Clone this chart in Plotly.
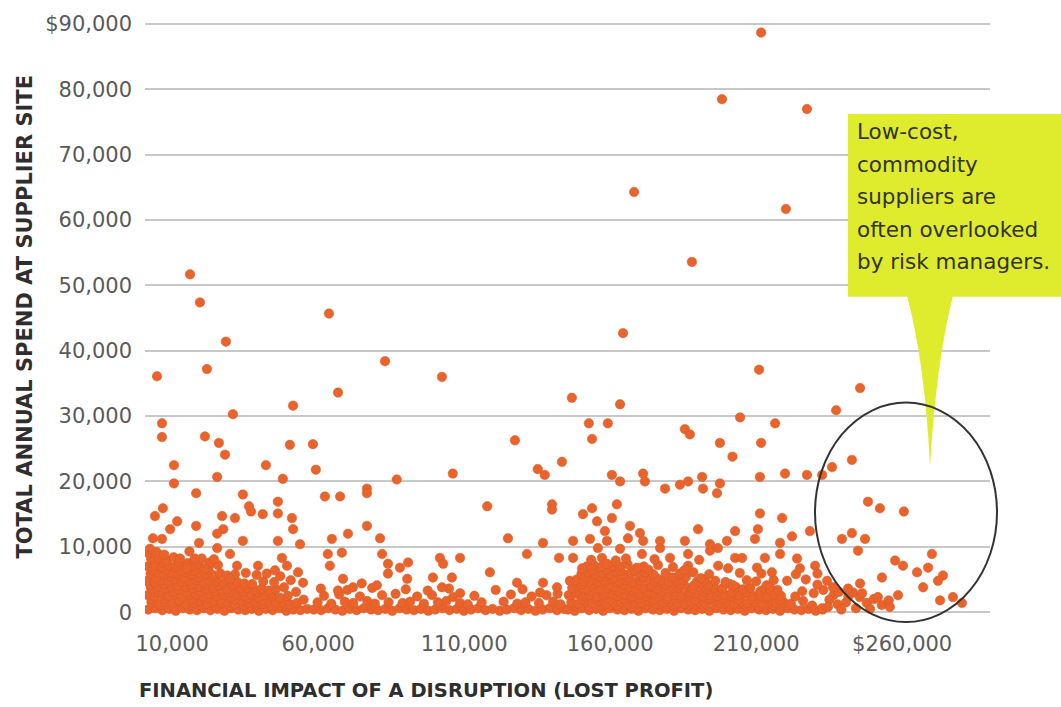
import plotly.graph_objects as go

# ---- Data (in $ thousands): (financial impact of disruption, total annual spend) ----
outliers_high = [
    (211.7, 88.7), (198.3, 78.5), (227.4, 77.0), (168.2, 64.3), (220.2, 61.7), (188.0, 53.6),
    (16.1, 51.7), (19.5, 47.4), (63.7, 45.7), (164.4, 42.7), (28.4, 41.4),
    (82.9, 38.4), (21.9, 37.2), (211.0, 37.1), (4.8, 36.1), (102.4, 36.0), (245.6, 34.3), (66.8, 33.6),
    (146.9, 32.8), (163.4, 31.8), (51.4, 31.6), (237.4, 30.9), (30.8, 30.3), (204.5, 29.8),
    (6.5, 28.9), (152.7, 28.9), (159.2, 28.9), (216.5, 28.9), (185.6, 28.0), (187.3, 27.2),
    (21.2, 26.9), (6.5, 26.8), (153.8, 26.5), (127.4, 26.3), (26.0, 25.9), (197.6, 25.9), (211.7, 25.9),
    (58.2, 25.7), (50.3, 25.6),
]

mid_scatter = [
    (28.1, 24.1), (201.9, 23.8), (242.8, 23.3), (143.5, 23.0), (10.6, 22.5), (42.1, 22.5), (236.0, 22.2),
    (135.2, 21.9), (59.2, 21.8), (106.1, 21.2), (171.3, 21.2), (219.9, 21.2), (137.6, 21.0), (160.6, 21.0),
    (232.6, 21.0), (227.4, 21.0), (25.4, 20.7), (191.5, 20.7), (211.3, 20.7), (47.9, 20.4), (86.9, 20.3),
    (163.4, 20.0), (171.9, 20.0), (186.7, 20.0), (10.6, 19.7), (197.6, 19.7), (183.9, 19.5),
    (76.7, 18.9), (178.8, 18.9), (191.8, 18.9), (18.2, 18.2), (76.7, 18.2), (196.6, 18.2), (34.2, 18.0),
    (62.3, 17.7), (67.5, 17.7), (46.2, 16.9), (248.3, 16.9), (140.1, 16.5), (162.3, 16.5),
    (6.8, 15.9), (117.9, 16.2), (36.3, 16.2), (153.8, 15.9), (252.4, 15.9), (140.1, 15.7),
    (37.0, 15.4), (260.6, 15.4), (46.2, 15.1), (211.3, 15.1), (41.0, 15.0), (150.7, 15.0),
    (4.1, 14.7), (27.1, 14.7), (31.5, 14.4), (51.0, 14.4), (160.6, 14.4), (218.9, 14.4),
    (11.7, 13.9), (155.5, 13.9), (18.2, 13.2), (76.7, 13.2), (166.8, 13.2),
    (9.3, 12.7), (27.5, 12.7), (51.4, 12.7), (190.1, 12.7), (210.6, 12.7),
    (158.2, 12.4), (202.8, 12.4), (228.4, 12.4), (170.2, 12.1), (242.8, 12.1),
    (25.4, 12.0), (70.2, 12.0), (222.3, 11.6),
    (3.4, 11.3), (81.2, 11.3), (125.0, 11.3), (166.1, 11.3),
    (6.5, 11.2), (64.7, 11.2), (153.1, 11.2), (209.6, 11.2), (239.4, 11.2), (247.3, 11.2),
    (34.2, 10.9), (46.2, 10.9), (147.3, 10.9), (158.9, 10.9), (171.3, 10.9), (177.1, 10.9),
    (185.6, 10.9), (200.0, 10.9), (19.2, 10.6), (137.0, 10.6), (218.2, 10.6), (53.8, 10.4), (194.2, 10.4),
]

low_scatter = [
    (25.4, 9.8), (155.8, 9.8), (177.1, 9.8), (196.9, 9.8), (2.4, 9.7), (163.4, 9.7),
    (244.9, 9.4), (194.2, 9.4), (29.8, 8.9), (63.3, 8.9), (81.9, 8.9), (131.5, 8.9), (170.9, 8.9),
    (186.7, 8.9), (218.2, 8.9), (270.2, 8.9), (68.1, 9.1), (12.7, 8.2), (17.8, 8.2), (47.6, 8.3),
    (101.7, 8.3), (108.6, 8.3), (142.5, 8.3), (147.3, 8.3), (180.5, 8.3), (202.8, 8.3), (205.2, 8.3),
    (213.0, 8.3), (224.0, 8.2), (257.6, 7.9), (90.8, 7.6), (83.9, 7.4), (102.8, 7.4), (158.9, 7.4),
    (32.2, 7.1), (39.4, 7.1), (49.3, 7.1), (64.0, 7.1), (186.7, 7.1), (230.2, 7.1), (260.3, 7.1),
    (88.0, 6.8), (169.2, 6.8), (210.3, 6.8), (268.9, 6.8), (15.1, 6.7), (21.2, 6.7), (150.4, 6.7),
    (200.4, 6.7), (225.0, 6.7), (45.2, 6.4), (53.1, 6.1), (118.8, 6.1), (215.4, 6.1), (265.1, 6.1),
    (83.9, 5.9), (274.0, 5.6), (99.3, 5.3), (105.8, 5.3), (253.1, 5.3), (29.8, 5.1), (68.5, 5.1),
    (90.5, 5.1), (272.3, 4.8), (220.6, 4.8), (234.3, 4.8), (54.8, 4.5), (128.1, 4.5), (137.0, 4.5),
    (74.9, 4.4), (245.6, 4.4), (80.1, 4.1), (202.1, 4.1), (71.9, 3.8), (102.4, 3.8), (141.8, 3.8),
    (214.7, 3.8), (267.2, 3.8), (236.3, 3.8), (241.5, 3.6), (66.8, 3.3), (136.0, 3.0), (108.6, 2.9),
    (258.6, 2.6), (277.4, 2.3), (251.7, 2.3), (273.0, 1.8), (280.5, 1.4), (234.6, 0.8),
]

tail_right = [
    (243.2, 3.0), (245.5, 2.3), (247.9, 1.4), (250.3, 2.0), (253.0, 1.1), (255.4, 1.8), (240.8, 1.5),
    (244.2, 0.6), (249.0, 0.5), (255.8, 0.8), (246.3, 2.9), (225.8, 3.2), (229.7, 2.9), (233.0, 3.4),
    (237.9, 1.2), (236.5, 2.6), (227.0, 5.0), (231.0, 5.9), (223.6, 5.8), (239.2, 0.4), (241.6, 2.4),
    (235.1, 1.9), (238.4, 3.1), (229.2, 1.0), (226.1, 1.7), (232.6, 0.6), (231.0, 4.2),
]

dense_left = [
    (1.8, 0.4), (4.1, 0.6), (6.6, 0.3), (9.0, 0.5), (11.2, 0.2), (13.7, 0.6), (16.0, 0.4), (18.5, 0.3),
    (20.8, 0.6), (23.1, 0.3), (25.5, 0.5), (27.9, 0.2), (30.2, 0.6), (32.6, 0.4), (35.0, 0.3), (37.3, 0.5),
    (39.7, 0.2), (42.1, 0.5), (44.4, 0.3), (46.8, 0.6), (49.1, 0.2), (51.5, 0.4), (53.9, 0.3), (56.2, 0.5),
    (5.9, 1.0), (10.6, 1.0), (15.4, 0.9), (20.2, 1.1), (25.0, 1.0), (29.7, 0.9), (34.5, 1.0), (39.2, 1.1),
    (44.0, 0.9), (48.8, 1.0),
    (2.9, 1.5), (5.4, 1.3), (7.7, 1.6), (10.1, 1.4), (12.5, 1.7), (14.8, 1.3), (17.2, 1.5), (19.7, 1.6),
    (22.0, 1.3), (24.3, 1.6), (26.7, 1.4), (29.1, 1.5), (31.4, 1.3), (33.8, 1.7), (36.2, 1.4), (38.5, 1.5),
    (40.9, 1.3), (43.2, 1.6), (45.6, 1.4), (48.0, 1.5), (50.4, 1.2), (52.7, 1.4), (55.0, 1.9),
    (3.0, 2.0), (7.6, 2.1), (12.3, 1.9), (17.0, 2.0), (21.8, 2.1), (26.5, 1.9), (31.3, 2.0), (36.0, 2.1),
    (40.8, 1.9),
    (1.6, 2.6), (4.0, 2.4), (6.4, 2.7), (8.8, 2.5), (11.1, 2.8), (13.5, 2.4), (15.9, 2.6), (18.2, 2.7),
    (20.6, 2.4), (22.9, 2.8), (25.3, 2.5), (27.7, 2.6), (30.1, 2.3), (32.4, 2.7), (34.8, 2.5), (37.2, 2.6),
    (39.5, 2.3), (41.9, 2.6), (44.3, 2.4), (46.9, 2.2), (49.6, 2.5), (52.4, 3.1),
    (5.5, 3.1), (10.3, 3.2), (15.0, 3.0), (19.8, 3.1), (24.6, 3.2), (29.4, 3.0), (34.1, 3.1), (39.0, 3.0),
    (43.8, 2.9),
    (2.7, 3.7), (5.1, 3.9), (7.5, 3.6), (9.9, 3.8), (12.2, 3.5), (14.6, 3.8), (17.0, 3.7), (19.3, 3.9),
    (21.7, 3.6), (24.1, 3.7), (26.4, 3.9), (28.8, 3.5), (31.2, 3.8), (33.5, 3.6), (35.9, 3.7), (38.3, 3.4),
    (40.7, 3.6), (43.1, 3.3), (45.5, 3.5), (48.3, 3.8),
    (2.5, 4.2), (7.2, 4.3), (11.9, 4.1), (16.6, 4.2), (21.4, 4.3), (26.1, 4.1), (30.9, 4.2),
    (1.5, 4.8), (3.9, 4.6), (6.3, 4.9), (8.6, 4.7), (11.0, 5.0), (13.4, 4.6), (15.8, 4.8), (18.1, 4.9),
    (20.5, 4.6), (22.8, 4.8), (25.2, 4.7), (27.6, 4.5), (30.0, 4.8), (32.3, 4.6), (34.7, 4.4), (37.4, 4.3),
    (41.2, 4.7), (44.9, 4.6), (50.6, 4.9),
    (4.4, 5.3), (9.2, 5.4), (14.0, 5.2), (18.8, 5.3), (23.5, 5.4),
    (2.6, 5.9), (5.0, 6.1), (7.3, 5.8), (9.7, 6.0), (12.1, 5.9), (14.5, 6.1), (16.8, 5.8), (19.2, 6.0),
    (21.6, 5.9), (24.0, 5.7), (26.5, 5.9), (28.9, 5.6), (31.5, 5.8), (35.2, 6.0), (38.9, 5.7), (42.4, 5.9),
    (47.0, 5.5),
    (3.3, 6.4), (8.0, 6.5), (12.8, 6.3), (17.5, 6.4), (22.3, 6.5),
    (1.7, 7.0), (4.1, 7.2), (6.5, 6.9), (8.9, 7.1), (11.3, 7.0), (13.7, 7.2), (16.4, 7.0), (19.0, 7.3),
    (22.6, 7.0), (25.7, 7.2),
    (6.9, 7.6), (12.0, 7.7), (15.3, 7.5), (22.8, 7.6),
    (2.8, 8.1), (5.5, 8.3), (8.1, 7.9), (10.5, 8.4), (17.6, 8.0), (20.1, 8.2), (24.3, 8.1),
    (1.9, 9.0), (4.7, 9.2), (7.3, 8.8), (15.9, 9.3),
]

dense_mid = [
    (58.5, 0.4), (61.0, 0.3), (63.4, 0.6), (65.9, 0.4), (68.3, 0.2), (70.8, 0.5), (73.2, 0.3), (75.6, 0.6),
    (78.1, 0.4), (80.5, 0.3), (83.0, 0.5), (85.4, 0.2), (87.9, 0.6), (90.3, 0.4), (92.8, 0.3), (95.2, 0.5),
    (97.7, 0.2), (100.1, 0.4), (102.6, 0.6), (105.0, 0.3), (107.5, 0.5), (109.9, 0.2), (112.4, 0.4),
    (114.8, 0.6), (117.3, 0.3), (119.7, 0.5), (122.2, 0.2), (124.6, 0.4), (127.1, 0.6), (129.5, 0.3),
    (132.0, 0.5), (134.4, 0.2), (136.9, 0.4), (139.3, 0.6), (141.8, 0.3), (144.2, 0.5),
    (59.8, 1.5), (64.5, 1.3), (69.1, 1.6), (72.0, 1.4), (76.8, 1.7), (79.4, 1.3), (84.1, 1.5), (88.9, 1.4),
    (91.5, 1.6), (96.2, 1.3), (101.0, 1.5), (103.9, 1.7), (108.6, 1.4), (111.2, 1.2), (116.0, 1.5),
    (123.5, 1.6), (128.2, 1.3), (131.0, 1.5), (135.6, 1.4), (140.5, 1.6), (143.0, 1.2),
    (62.0, 2.5), (67.2, 2.7), (74.3, 2.4), (81.9, 2.6), (86.5, 2.8), (93.9, 2.4), (99.0, 2.6),
    (106.2, 2.3), (113.5, 2.5), (126.0, 2.7), (133.1, 2.4), (138.2, 2.6), (142.0, 2.8),
    (60.9, 3.6), (70.0, 3.4), (78.5, 3.7), (90.0, 3.5), (97.5, 3.3), (104.8, 3.6), (120.8, 3.4), (130.0, 3.5),
]

dense_right = [
    (145.5, 0.4), (147.9, 0.2), (150.3, 0.6), (152.8, 0.3), (155.2, 0.5), (157.6, 0.2), (160.0, 0.6),
    (162.5, 0.4), (164.9, 0.3), (167.3, 0.5), (169.7, 0.2), (172.2, 0.6), (174.6, 0.4), (177.0, 0.3),
    (179.4, 0.5), (181.9, 0.2), (184.3, 0.6), (186.7, 0.4), (189.1, 0.3), (191.6, 0.5), (194.0, 0.2),
    (196.4, 0.6), (198.8, 0.4), (201.3, 0.3), (203.7, 0.5), (206.1, 0.2), (208.5, 0.6), (211.0, 0.4),
    (213.4, 0.3), (215.8, 0.5), (218.2, 0.2), (220.7, 0.6), (223.1, 0.4), (225.5, 0.3), (227.9, 0.5),
    (230.4, 0.2), (232.8, 0.4),
    (148.0, 1.0), (152.8, 0.9), (157.6, 1.1), (162.5, 1.0), (167.3, 0.9), (172.2, 1.0), (177.0, 1.1),
    (181.9, 0.9), (186.7, 1.0), (191.6, 1.1), (196.4, 0.9), (201.3, 1.0), (206.1, 1.1), (211.0, 0.9),
    (215.8, 1.0), (220.7, 1.1),
    (146.7, 1.5), (149.1, 1.3), (151.5, 1.6), (154.0, 1.4), (156.4, 1.7), (158.8, 1.3), (161.2, 1.5),
    (163.7, 1.6), (166.1, 1.3), (168.5, 1.5), (170.9, 1.4), (173.4, 1.7), (175.8, 1.3), (178.2, 1.5),
    (180.6, 1.6), (183.1, 1.4), (185.5, 1.3), (187.9, 1.6), (190.3, 1.5), (192.8, 1.3), (195.2, 1.7),
    (197.6, 1.4), (200.0, 1.5), (202.5, 1.3), (204.9, 1.6), (207.3, 1.4), (209.7, 1.5), (212.2, 1.3),
    (214.6, 1.6), (217.0, 1.4), (219.4, 1.5), (221.9, 1.3),
    (150.3, 2.0), (155.2, 2.1), (160.0, 1.9), (164.9, 2.0), (169.7, 2.1), (174.6, 1.9), (179.4, 2.0),
    (184.3, 2.1), (189.1, 1.9), (194.0, 2.0), (198.8, 2.1), (203.7, 1.9), (208.5, 2.0), (213.4, 2.1),
    (218.2, 1.9),
    (145.8, 2.6), (148.2, 2.8), (150.6, 2.5), (153.0, 2.7), (155.5, 2.4), (157.9, 2.6), (160.3, 2.8),
    (162.7, 2.5), (165.2, 2.6), (167.6, 2.4), (170.0, 2.7), (172.4, 2.5), (174.9, 2.8), (177.3, 2.6),
    (179.7, 2.4), (182.1, 2.7), (184.6, 2.5), (187.0, 2.6), (189.4, 2.8), (191.8, 2.4), (194.3, 2.6),
    (196.7, 2.5), (199.1, 2.7), (201.5, 2.4), (204.0, 2.6), (206.4, 2.8), (208.8, 2.5), (211.2, 2.6),
    (213.7, 2.4), (216.1, 2.7), (218.5, 2.5), (223.4, 2.4),
    (148.5, 3.1), (153.3, 3.2), (158.1, 3.0), (163.0, 3.1), (167.9, 3.2), (172.7, 3.0), (177.5, 3.1),
    (182.4, 3.2), (187.2, 3.0), (192.0, 3.1), (196.9, 3.2), (201.7, 3.0), (206.6, 3.1), (211.4, 3.2),
    (147.0, 3.7), (149.4, 3.9), (151.9, 3.6), (154.3, 3.8), (156.7, 3.5), (159.1, 3.7), (161.6, 3.9),
    (164.0, 3.6), (166.4, 3.8), (168.8, 3.5), (171.3, 3.7), (173.7, 3.9), (176.1, 3.6), (178.5, 3.8),
    (181.0, 3.5), (183.4, 3.7), (185.8, 3.9), (188.2, 3.6), (190.7, 3.8), (193.1, 3.5), (195.5, 3.7),
    (198.4, 3.6), (203.2, 3.8), (205.6, 3.5), (208.0, 3.7), (212.9, 3.6), (217.3, 3.4),
    (150.0, 4.2), (154.8, 4.3), (159.7, 4.1), (164.5, 4.2), (169.4, 4.3), (174.2, 4.1), (179.0, 4.2),
    (183.9, 4.3), (188.7, 4.1), (193.6, 4.2), (200.9, 4.3), (213.6, 4.1),
    (146.2, 4.8), (148.6, 5.0), (151.0, 4.7), (153.5, 4.9), (155.9, 4.6), (158.3, 4.8), (160.7, 5.0),
    (163.2, 4.7), (165.6, 4.9), (168.0, 4.6), (170.4, 4.8), (172.9, 5.0), (175.3, 4.7), (177.7, 4.9),
    (180.1, 4.6), (182.6, 4.8), (185.0, 4.9), (189.8, 4.7), (192.4, 5.0), (196.0, 4.8), (199.5, 4.6),
    (206.8, 4.9), (210.0, 4.7), (216.0, 4.9),
    (151.6, 5.3), (156.4, 5.4), (161.3, 5.2), (166.1, 5.3), (171.0, 5.4), (176.0, 5.2), (181.3, 5.3),
    (186.0, 5.4), (191.1, 5.2),
    (150.2, 5.9), (152.6, 6.1), (155.0, 5.8), (157.4, 6.0), (159.9, 5.9), (162.3, 6.1), (164.7, 5.8),
    (167.1, 6.0), (169.6, 5.9), (172.0, 6.1), (174.8, 5.8), (179.0, 6.0), (183.8, 5.9), (188.5, 6.1),
    (193.9, 5.8), (204.4, 6.0), (211.8, 5.9),
    (153.8, 6.4), (158.6, 6.5), (163.4, 6.3), (168.3, 6.4), (173.1, 6.5), (185.4, 6.4),
    (152.0, 7.0), (154.4, 7.2), (156.9, 6.9), (160.8, 7.1), (163.5, 7.0), (166.0, 7.3), (171.5, 7.0),
    (176.4, 7.2), (181.5, 6.9), (197.0, 7.1),
    (153.5, 8.0), (157.2, 8.3), (161.9, 7.9), (165.4, 8.2), (175.2, 8.1), (190.5, 8.0),
]

x_tick_values = [10000, 60000, 110000, 160000, 210000, 260000]
x_tick_labels = ["10,000", "60,000", "110,000", "160,000", "210,000", "$260,000"]
y_tick_values = [0, 10000, 20000, 30000, 40000, 50000, 60000, 70000, 80000, 90000]
y_tick_labels = ["0", "10,000", "20,000", "30,000", "40,000", "50,000", "60,000", "70,000", "80,000", "$90,000"]

callout_lines = ["Low-cost,", "commodity", "suppliers are", "often overlooked", "by risk managers."]

# ---- Build ----
all_points = dense_left + dense_mid + dense_right + tail_right + low_scatter + mid_scatter + outliers_high
lost_profit = [p[0] * 1000 for p in all_points]
annual_spend = [p[1] * 1000 for p in all_points]

FONT = "DejaVu Sans"
ORANGE = "#EA632A"

fig = go.Figure()
fig.add_trace(go.Scatter(
    x=lost_profit, y=annual_spend, mode="markers",
    marker=dict(size=9.5, color=ORANGE, line=dict(color="#D65A2A", width=0.5)),
    hoverinfo="x+y", showlegend=False,
))

fig.update_layout(
    width=1061, height=707,
    margin=dict(l=145, r=71, t=14, b=82),
    paper_bgcolor="white", plot_bgcolor="white",
    font=dict(family=FONT, color="#555555"),
    xaxis=dict(
        range=[685, 290100], showgrid=False, zeroline=False, showline=False, ticks="",
        tickvals=x_tick_values, ticktext=x_tick_labels,
        tickfont=dict(family=FONT, size=21, color="#5a5a5a"), ticklabelstandoff=4,
    ),
    yaxis=dict(
        range=[-1967, 90470], showgrid=True, gridcolor="#c8c8c8", gridwidth=2,
        zeroline=False, showline=False, ticks="",
        tickvals=y_tick_values, ticktext=y_tick_labels,
        tickfont=dict(family=FONT, size=21, color="#5a5a5a"), ticklabelstandoff=12,
    ),
)

def px_x(px):
    return (px - 145) / 845.0

def px_y(py):
    return (625 - py) / 611.0

shapes = [
    dict(type="rect", xref="paper", yref="paper", x0=px_x(848), x1=px_x(1061), y0=px_y(293), y1=px_y(108),
         fillcolor="#DFEC2E", line=dict(width=0), layer="above"),
    dict(type="path", xref="paper", yref="paper",
         path=f"M {px_x(907)},{px_y(292)} Q {px_x(925)},{px_y(360)} {px_x(930)},{px_y(465)} "
              f"Q {px_x(936)},{px_y(360)} {px_x(953)},{px_y(292)} Z",
         fillcolor="#DFEC2E", line=dict(width=0), layer="above"),
    dict(type="circle", xref="paper", yref="paper", x0=px_x(815), x1=px_x(997), y0=px_y(622), y1=px_y(400),
         line=dict(color="#333333", width=2), fillcolor="rgba(0,0,0,0)", layer="above"),
]
fig.update_layout(shapes=shapes)

annotations = [
    dict(text="<b>TOTAL ANNUAL SPEND AT SUPPLIER SITE</b>", textangle=-90, xref="paper", yref="paper",
         x=px_x(25), y=px_y(313), xanchor="center", yanchor="middle", showarrow=False,
         font=dict(family=FONT, size=21, color="#2e2e2e")),
    dict(text="<b>FINANCIAL IMPACT OF A DISRUPTION (LOST PROFIT)</b>", xref="paper", yref="paper",
         x=px_x(137), y=px_y(691), xanchor="left", yanchor="middle", showarrow=False,
         font=dict(family=FONT, size=19.5, color="#2e2e2e")),
]
line_centers = [126, 159, 192, 225, 257]
for txt, cy in zip(callout_lines, line_centers):
    annotations.append(dict(text=txt, xref="paper", yref="paper", x=px_x(855), y=px_y(cy),
                            xanchor="left", yanchor="middle", showarrow=False,
                            font=dict(family=FONT, size=21.5, color="#33331f")))
fig.update_layout(annotations=annotations)

fig.write_html("out.html")
